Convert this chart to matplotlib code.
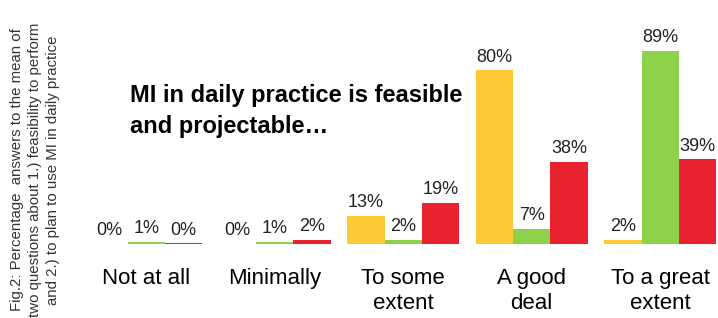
import numpy as np
import matplotlib.pyplot as plt

categories = ["Not at all", "Minimally", "To some\nextent", "A good\ndeal", "To a great\nextent"]
yellow_vals = [0, 0, 13, 80, 2]
green_vals = [1, 1, 2, 7, 89]
red_vals = [0.3, 2, 19, 38, 39]
colors = ["#FFC933", "#8ED24B", "#E8232F"]

plt.rcParams['font.family'] = ['Liberation Sans', 'DejaVu Sans']

fig = plt.figure(figsize=(7.18, 3.18), dpi=100)
ax = fig.add_axes([82 / 718, 74 / 318, 636 / 718, 244 / 318])

x = np.arange(len(categories))
w = 0.29
for i, vals in enumerate([yellow_vals, green_vals, red_vals]):
    bars = ax.bar(x + (i - 1) * w, vals, width=w, color=colors[i], linewidth=0)
    for b, v in zip(bars, vals):
        ax.text(b.get_x() + b.get_width() / 2, b.get_height() + 2.2, f"{round(v)}%",
                ha='center', va='bottom', fontsize=13, color='#222222')

ax.set_xlim(-0.5, 4.45)
ax.set_ylim(0, 112.4)
ax.set_xticks(x)
ax.set_xticklabels(categories, fontsize=16, linespacing=1.25)
ax.tick_params(axis='x', length=0, pad=17)
ax.set_yticks([])
for s in ax.spines.values():
    s.set_visible(False)

fig.text(130 / 718, 1 - 111 / 318, "MI in daily practice is feasible\nand projectable\u2026",
         fontsize=17, fontweight='bold', va='center', ha='left', linespacing=1.45)

fig.text(35 / 718, 1 - 170 / 318, "Fig.2: Percentage  answers to the mean of\ntwo questions about 1.) feasibility to perform\nand 2.) to plan to use MI in daily practice",
         rotation=90, fontsize=10.8, ha='center', va='center', linespacing=1.35, color='#333333')

fig.savefig("out.png", dpi=100)
